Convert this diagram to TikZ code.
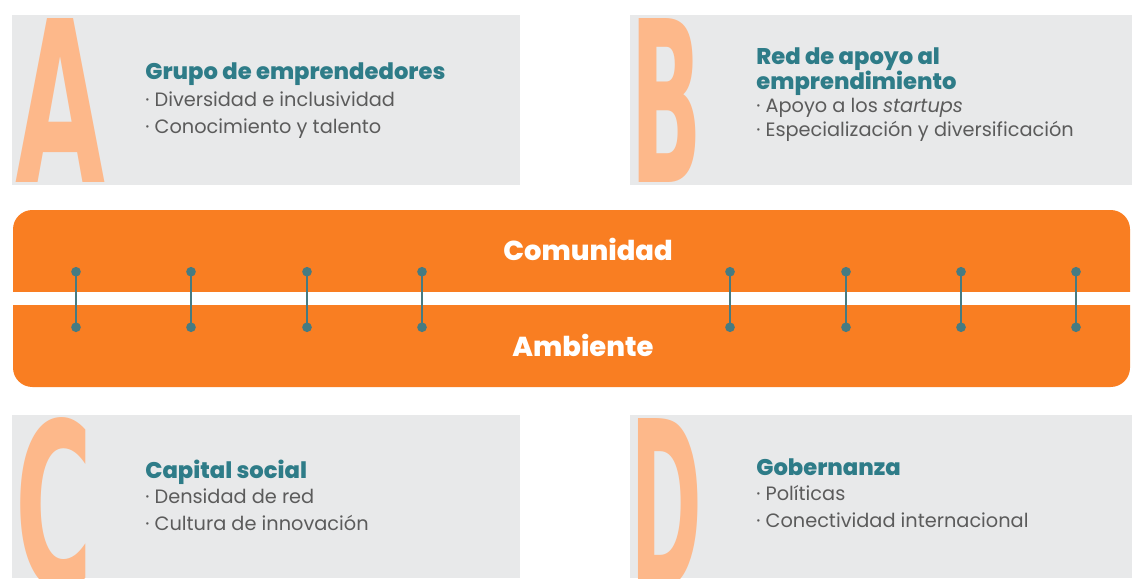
\documentclass[tikz,border=0pt]{standalone}
\usepackage{fontspec}
\setmainfont{Poppins}
\newfontfamily\heavyfont{Poppins ExtraBold}
\newfontfamily\letterfont{DejaVu Sans}
\usetikzlibrary{arrows.meta}

\definecolor{panelgray}{HTML}{E8E9EA}
\definecolor{peach}{HTML}{FDB88A}
\definecolor{bandorange}{HTML}{F97E22}
\definecolor{titleteal}{HTML}{2E7C88}
\definecolor{itemgray}{HTML}{5B5B5B}
\definecolor{linkteal}{HTML}{467B82}

\tikzset{
  bigletter/.style={anchor=north west, inner sep=0pt, text=peach, font=\letterfont\bfseries},
  paneltext/.style={anchor=north west, inner sep=0pt, align=left, text=itemgray,
    font=\fontsize{11}{15.3}\selectfont},
  bandlabel/.style={inner sep=0pt, text=white, font=\heavyfont\fontsize{15.6}{18}\selectfont},
  link/.style={linkteal, line width=1.4pt, {Circle[length=5.4pt]}-{Circle[length=5.4pt]}},
}
\newcommand{\ptitle}[1]{{\color{titleteal}\heavyfont\fontsize{12.9}{13}\selectfont #1}}

\begin{document}
\begin{tikzpicture}[x=0.02cm, y=-0.02cm]
	\useasboundingbox (0,0) rectangle (1132,578);
	% panels
	\fill[panelgray] (12,15) rectangle (520,185);
	\fill[panelgray] (630,15) rectangle (1132,185);
	\fill[panelgray] (12,415) rectangle (520,578);
	\fill[panelgray] (630,415) rectangle (1132,578);
	% big letters
	\node[bigletter] (letA) at (15,18) {\resizebox{1.8cm}{3.28cm}{A}};
	\node[bigletter] (letB) at (630,18) {\resizebox{1.44cm}{3.28cm}{B}};
	\begin{scope}
		\clip (0,400) rectangle (1132,578);
		\node[bigletter] (letC) at (15,417) {\resizebox{1.54cm}{3.4cm}{C}};
		\node[bigletter] (letD) at (630,418) {\resizebox{1.44cm}{3.4cm}{D}};
	\end{scope}
	% panel texts
	\node[paneltext] (txtA) at (145,62) {\ptitle{Grupo de emprendedores}\\[0.4pt]
		· Diversidad e inclusividad\\
		· Conocimiento y talento};
	\node[paneltext, font=\fontsize{11}{13.6}\selectfont] (txtB) at (756,47) {\ptitle{Red de apoyo al}\\[-0.8pt]
		\ptitle{emprendimiento}\\
		· Apoyo a los \textit{startups}\\
		· Especialización y diversificación};
	\node[paneltext] (txtC) at (145,460) {\ptitle{Capital social}\\[-1.2pt]
		· Densidad de red\\
		· Cultura de innovación};
	\node[paneltext] (txtD) at (756,458) {\ptitle{Gobernanza}\\[-0.8pt]
		· Políticas\\
		· Conectividad internacional};
	% band
	\fill[bandorange, rounded corners=11pt] (13,210) rectangle (1130,387);
	\fill[white] (0,292) rectangle (1132,305);
	\node[bandlabel] (comunidad) at (588,249) {Comunidad};
	\node[bandlabel] (ambiente) at (583,345) {Ambiente};
	% links between the two halves
	\foreach \x [count=\i] in {76,191,307,422,730,846,961,1076} {
		\coordinate (up\i) at (\x,267);
		\coordinate (dn\i) at (\x,332);
		\draw[link] (up\i) -- (dn\i);
	}
\end{tikzpicture}
\end{document}
